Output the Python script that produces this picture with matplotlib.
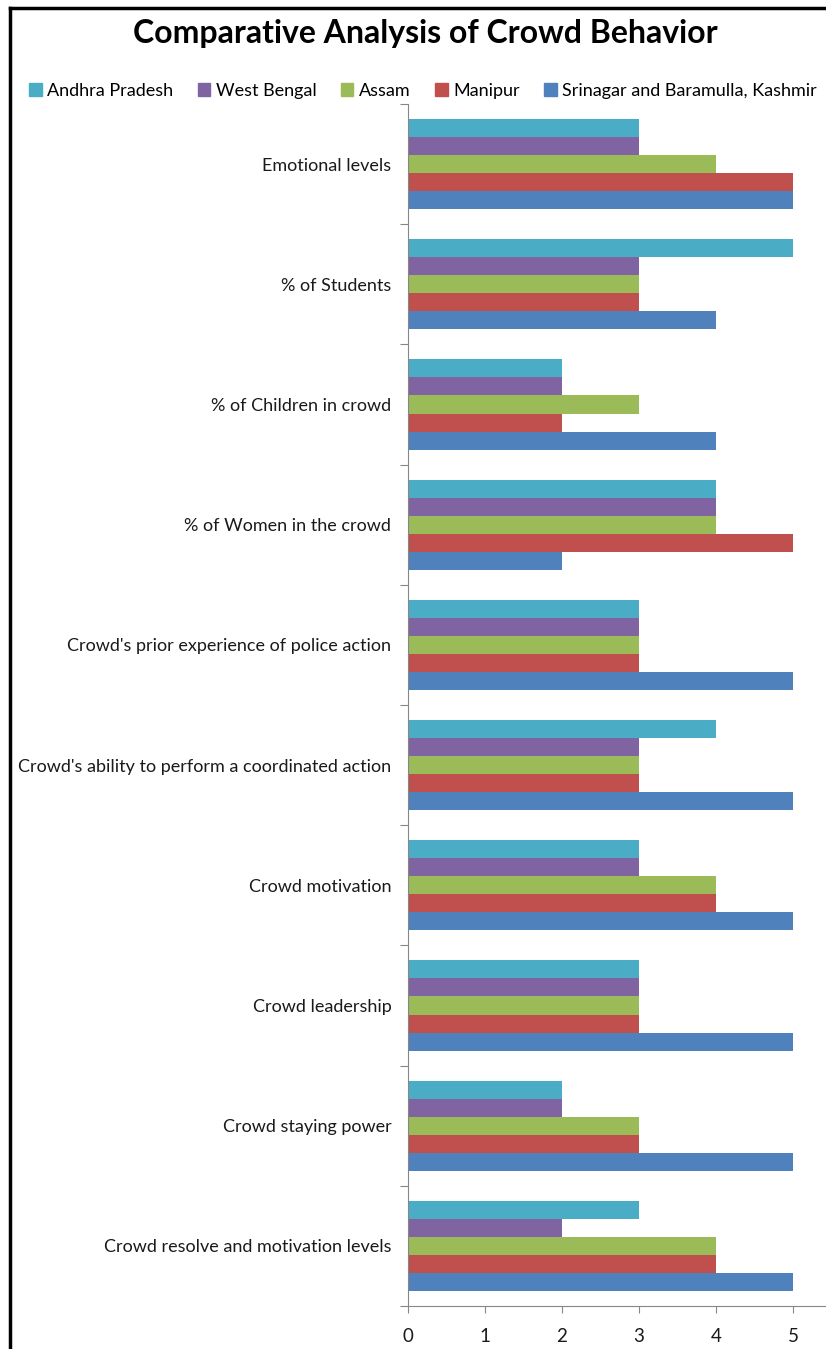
import numpy as np
import matplotlib.pyplot as plt
from matplotlib.lines import Line2D
from matplotlib.patches import Patch

plt.rcParams['font.family'] = ['Lato', 'DejaVu Sans']

# categories listed top to bottom as they appear
categories = ['Emotional levels', '% of Students', '% of Children in crowd',
              '% of Women in the crowd', "Crowd's prior experience of police action",
              "Crowd's ability to perform a coordinated action", 'Crowd motivation',
              'Crowd leadership', 'Crowd staying power',
              'Crowd resolve and motivation levels']

andhra = [3, 5, 2, 4, 3, 4, 3, 3, 2, 3]
west_bengal = [3, 3, 2, 4, 3, 3, 3, 3, 2, 2]
assam = [4, 3, 3, 4, 3, 3, 4, 3, 3, 4]
manipur = [5, 3, 2, 5, 3, 3, 4, 3, 3, 4]
srinagar = [5, 4, 4, 2, 5, 5, 5, 5, 5, 5]

series = [('Andhra Pradesh', andhra, '#4BACC6'),
          ('West Bengal', west_bengal, '#8064A2'),
          ('Assam', assam, '#9BBB59'),
          ('Manipur', manipur, '#C0504D'),
          ('Srinagar and Baramulla, Kashmir', srinagar, '#4F81BD')]

W, H = 826, 1349
fig = plt.figure(figsize=(W / 100, H / 100), dpi=100)
ax = fig.add_axes([408 / W, 1 - 1306 / H, 1 - 408 / W, (1306 - 104) / H])

n = len(categories)
pos = np.arange(n)[::-1]  # first category on top
bh = 0.15
for i, (name, vals, col) in enumerate(series):
    offs = (2 - i) * bh
    ax.barh(pos + offs, vals, height=bh, color=col, label=name)

ax.set_xlim(0, 5.43)
ax.set_ylim(-0.5, n - 0.5)
ax.set_xticks(range(6))
ax.set_yticks(np.arange(n + 1) - 0.5)
ax.set_yticklabels([])
ax.set_yticks(pos, minor=True)
ax.set_yticklabels(categories, minor=True)
ax.tick_params(axis='y', which='minor', length=0, pad=12, labelsize=13, labelcolor='#1a1a1a')
ax.tick_params(axis='y', which='major', length=6, color='#868686')
ax.tick_params(axis='x', length=5, color='#868686', labelsize=13.5, pad=11, labelcolor='#1a1a1a')
for s in ['top', 'right']:
    ax.spines[s].set_visible(False)
for s in ['left', 'bottom']:
    ax.spines[s].set_color('#868686')

fig.text(0.5145, 1 - 33 / H, 'Comparative Analysis of Crowd Behavior',
         ha='center', va='center', fontsize=23, fontweight='bold')

handles = [Patch(color=c) for _, _, c in series]
fig.legend(handles, [s[0] for s in series], loc='center', ncol=5,
           bbox_to_anchor=(0.512, 1 - 91 / H), frameon=False, fontsize=13,
           handlelength=0.7, handleheight=0.7, handletextpad=0.3, columnspacing=1.35)

# outer frame
fig.add_artist(Line2D([10 / W, 1], [1 - 8 / H, 1 - 8 / H], color='black', lw=2.5))
fig.add_artist(Line2D([10 / W, 10 / W], [0, 1 - 8 / H], color='black', lw=2.5))

fig.savefig('out.png', dpi=100)
